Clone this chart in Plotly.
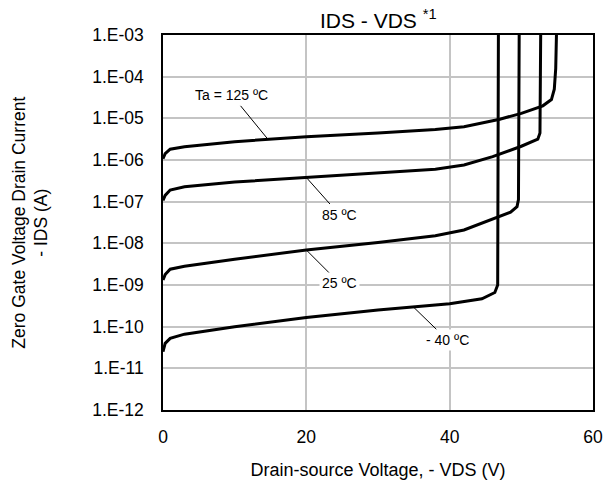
import numpy as np
import plotly.graph_objects as go

# Drain-source voltage (V) and log10 of drain current (A) for each ambient temperature
v_125 = [0, 0.3, 1, 3, 10, 20, 30, 38, 42, 45, 47, 50, 53, 54.2, 54.6, 54.8, 54.9]
log_i_125 = [-5.97, -5.85, -5.74, -5.68, -5.56, -5.44, -5.35, -5.27, -5.20, -5.10,
             -5.02, -4.88, -4.70, -4.55, -4.30, -3.80, -3.00]

v_85 = [0, 0.3, 1, 3, 10, 20, 30, 38, 42, 46, 50, 52.3, 52.6, 52.7]
log_i_85 = [-6.97, -6.85, -6.72, -6.64, -6.53, -6.42, -6.31, -6.22, -6.12, -5.92,
            -5.67, -5.50, -5.35, -3.00]

v_25 = [0, 0.3, 1, 3, 10, 20, 30, 38, 42, 46, 48.5, 49.4, 49.6, 49.7]
log_i_25 = [-8.88, -8.75, -8.62, -8.55, -8.38, -8.16, -7.98, -7.82, -7.68, -7.42,
            -7.25, -7.12, -6.95, -3.00]

v_m40 = [0, 0.3, 1, 3, 10, 20, 30, 35, 40, 44.5, 46.3, 46.7, 46.8]
log_i_m40 = [-10.60, -10.40, -10.28, -10.18, -10.00, -9.78, -9.60, -9.52, -9.45,
             -9.33, -9.18, -9.00, -3.00]

series = [
    ("Ta = 125 ºC", v_125, log_i_125),
    ("85 ºC", v_85, log_i_85),
    ("25 ºC", v_25, log_i_25),
    ("- 40 ºC", v_m40, log_i_m40),
]

# Label callouts: voltage where the leader touches the curve, text offset in px
label_at_v = [14.65, 20, 20, 34.9]
label_dx = [-36, 33, 33, 34]
label_dy = [-44, 37, 33, 33]

y_exponents = list(range(-12, -2))
y_tick_text = ["1.E-%02d" % (-e) for e in y_exponents]
x_ticks = [0, 20, 40, 60]

FONT = "Arial, Liberation Sans, sans-serif"

fig = go.Figure()
for name, v, li in series:
    fig.add_trace(go.Scatter(
        x=v, y=[10 ** e for e in li], mode="lines", name=name,
        line=dict(color="black", width=3), showlegend=False,
    ))

for (name, v, li), xv, dx, dy in zip(series, label_at_v, label_dx, label_dy):
    fig.add_annotation(
        x=xv, y=float(np.interp(xv, v, li)), xref="x", yref="y",
        text=name, showarrow=True, arrowhead=0, arrowwidth=1, arrowcolor="black",
        ax=dx, ay=dy, bgcolor="white", borderpad=2,
        font=dict(family=FONT, size=14, color="black"),
    )

# Chart title with footnote marker
fig.add_annotation(
    x=0.5, y=1.0, xref="paper", yref="paper", yanchor="bottom", yshift=1,
    text="IDS - VDS <sup>*1</sup>", showarrow=False,
    font=dict(family=FONT, size=21, color="black"),
)

# Two-line vertical axis caption
fig.add_annotation(
    x=-0.309, y=0.5, xref="paper", yref="paper", xanchor="center", yanchor="middle",
    text="Zero Gate Voltage Drain Current<br>- IDS (A)", textangle=-90, showarrow=False,
    font=dict(family=FONT, size=17.5, color="black"),
)

fig.update_xaxes(
    range=[0, 60], tickvals=x_ticks, ticks="", ticklabelstandoff=10, automargin=False,
    showgrid=True, gridcolor="#c4c4c4", gridwidth=1.5, zeroline=False,
    showline=True, linecolor="black", linewidth=1.5, mirror=True,
    tickfont=dict(family=FONT, size=17.5, color="black"),
    title=dict(text="Drain-source Voltage, - VDS (V)",
               font=dict(family=FONT, size=18, color="black"), standoff=18),
)
fig.update_yaxes(
    type="log", range=[-12, -3], tickvals=[10 ** e for e in y_exponents],
    ticktext=y_tick_text, ticks="", ticklabelstandoff=14, automargin=False,
    showgrid=True, gridcolor="#c4c4c4", gridwidth=1.5, zeroline=False,
    showline=True, linecolor="black", linewidth=1.5, mirror=True,
    tickfont=dict(family=FONT, size=17.5, color="black"),
)

fig.update_layout(
    width=608, height=485, autosize=False,
    margin=dict(l=163, r=15, t=35, b=75),
    paper_bgcolor="white", plot_bgcolor="white",
)

fig.write_html("out.html")
